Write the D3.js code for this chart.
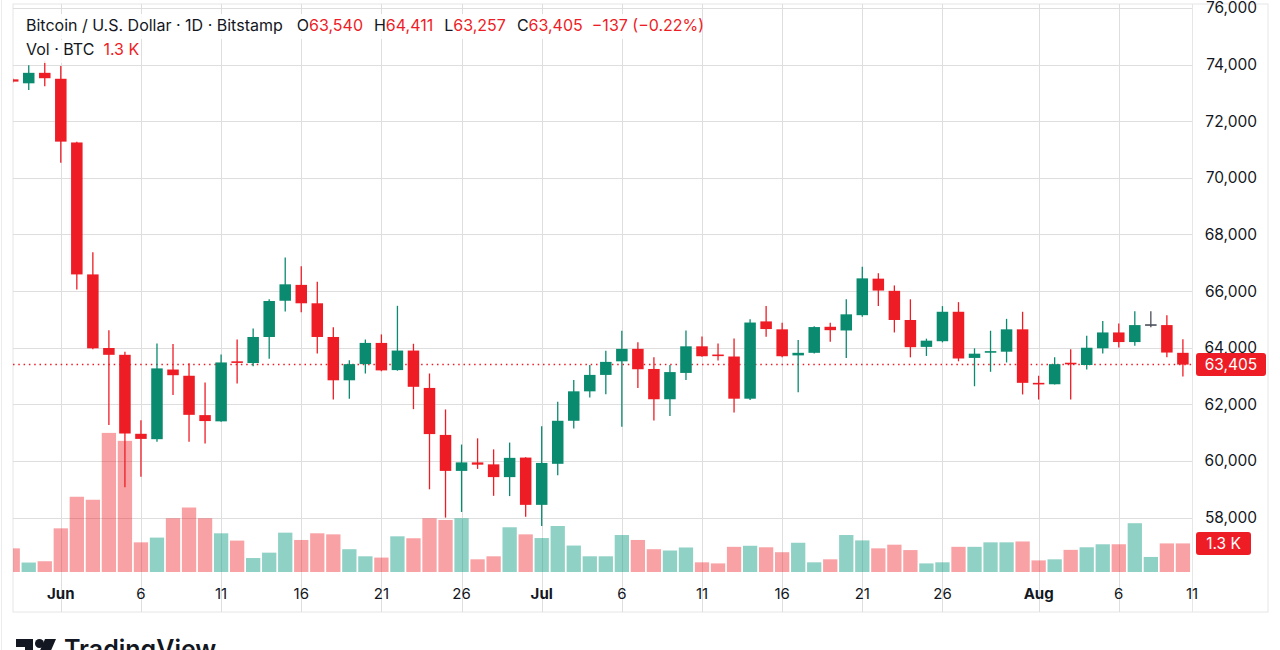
<!DOCTYPE html>
<html>
<head>
<meta charset="utf-8">
<script src="https://cdn.jsdelivr.net/npm/d3@7"></script>
<style>
  html, body { margin: 0; padding: 0; background: #fff; overflow: hidden; }
  svg { display: block; font-family: Inter, "Noto Sans", sans-serif; }
</style>
</head>
<body>
<svg id="chart" width="1280" height="650"></svg>
<script>
"use strict";

// daily candles, May 29 .. Aug 10
var days = [
  "2024-05-29","2024-05-30","2024-05-31",
  "2024-06-01","2024-06-02","2024-06-03","2024-06-04","2024-06-05","2024-06-06","2024-06-07","2024-06-08","2024-06-09","2024-06-10",
  "2024-06-11","2024-06-12","2024-06-13","2024-06-14","2024-06-15","2024-06-16","2024-06-17","2024-06-18","2024-06-19","2024-06-20",
  "2024-06-21","2024-06-22","2024-06-23","2024-06-24","2024-06-25","2024-06-26","2024-06-27","2024-06-28","2024-06-29","2024-06-30",
  "2024-07-01","2024-07-02","2024-07-03","2024-07-04","2024-07-05","2024-07-06","2024-07-07","2024-07-08","2024-07-09","2024-07-10",
  "2024-07-11","2024-07-12","2024-07-13","2024-07-14","2024-07-15","2024-07-16","2024-07-17","2024-07-18","2024-07-19","2024-07-20",
  "2024-07-21","2024-07-22","2024-07-23","2024-07-24","2024-07-25","2024-07-26","2024-07-27","2024-07-28","2024-07-29","2024-07-30","2024-07-31",
  "2024-08-01","2024-08-02","2024-08-03","2024-08-04","2024-08-05","2024-08-06","2024-08-07","2024-08-08","2024-08-09","2024-08-10"
];
var opens = [
  73480,73340,73710,
  73500,71250,66590,63990,63750,60960,60770,63230,63010,61620,
  61400,63520,63460,64380,65660,66220,65570,64380,62850,63420,
  64170,63210,63900,62580,60920,59650,59950,59880,59430,60120,
  58450,59900,61420,62460,63040,63520,63960,63250,62180,63110,
  64050,63760,63690,62200,64930,64650,63730,63820,64740,64610,
  65150,66440,66010,64980,64030,64230,65270,63640,63830,63860,64650,
  62760,62710,63470,63390,63980,64540,64200,64830,64800,63820
];
var highs = [
  73510,73980,74140,
  73950,71280,67370,64620,63860,61440,64150,64130,63450,62770,
  63760,64290,64680,65710,67190,66880,66330,64720,63560,64290,
  64470,65480,64140,63090,61820,60580,60800,60410,60650,60130,
  61230,62090,62860,63390,63890,64600,64190,63660,63390,64610,
  64400,64150,64330,65010,65470,64880,64270,64760,64880,65710,
  66860,66630,66200,65710,64320,65470,65610,63980,64600,65020,65270,
  63010,63660,63950,64420,64940,64860,65290,65290,65150,64300
];
var lows = [
  73360,73100,73240,
  70530,66060,63950,61270,59070,59440,60680,62330,60680,60620,
  61390,62740,63350,63610,65280,65250,63800,62170,62200,63090,
  63170,63190,61830,59000,58000,58200,59720,58770,58760,58030,
  57700,59500,61150,62240,62360,61210,62580,61430,61590,62860,
  63680,63550,61710,62150,64390,63660,62430,63800,64210,63640,
  65090,65470,64540,63660,63710,64190,63520,62640,63150,63480,62350,
  62170,62700,62170,63230,63800,64010,64070,64720,63660,62980
];
var closes = [
  73400,73710,73520,
  71280,66590,63980,63750,60970,60780,63270,63030,61630,61410,
  63480,63490,64380,65650,66240,65570,64380,62850,63420,64170,
  63200,63900,62620,60950,59650,59950,59870,59430,60110,58450,
  59930,61420,62460,63040,63500,63960,63240,62180,63140,64050,
  63700,63730,62200,64890,64660,63700,63820,64730,64620,65180,
  66450,66020,64980,64020,64250,65270,63620,63790,63880,64650,62760,
  62710,63420,63420,64000,64540,64200,64800,64830,63830,63405
];
// volume in thousands of BTC
var volumes = [
  1.10,0.44,0.50,
  2.03,3.50,3.36,6.47,6.10,1.38,1.60,2.50,3.00,2.50,
  1.80,1.46,0.65,0.90,1.83,1.49,1.80,1.75,1.06,0.73,
  0.67,1.66,1.57,2.50,2.42,2.50,0.59,0.73,2.08,1.75,
  1.58,2.14,1.23,0.73,0.73,1.72,1.49,1.06,1.00,1.14,
  0.45,0.40,1.17,1.22,1.15,0.92,1.36,0.45,0.59,1.72,
  1.47,1.10,1.27,1.02,0.40,0.45,1.17,1.17,1.38,1.38,1.42,
  0.54,0.59,1.03,1.15,1.29,1.29,2.27,0.70,1.33,1.33
];

var priceTicks = [58000,60000,62000,64000,66000,68000,70000,72000,74000,76000];
var dateTicks = ["2024-06-01","2024-06-06","2024-06-11","2024-06-16","2024-06-21","2024-06-26",
                 "2024-07-01","2024-07-06","2024-07-11","2024-07-16","2024-07-21","2024-07-26",
                 "2024-08-01","2024-08-06","2024-08-11"];
var dateLabels = ["Jun","6","11","16","21","26","Jul","6","11","16","21","26","Aug","6","11"];
var monthLabels = ["Jun","Jul","Aug"];

var lastPrice = 63405;
var lastVolume = 1.3;
var legendRow1 = [
  ["Bitcoin / U.S. Dollar · 1D · Bitstamp", "ink", 0],
  ["O", "ink", 14], ["63,540", "red", 0],
  ["H", "ink", 11], ["64,411", "red", 0],
  ["L", "ink", 11], ["63,257", "red", 0],
  ["C", "ink", 11], ["63,405", "red", 0],
  ["\u2212137 (\u22120.22%)", "red", 9]
];
var legendRow2 = [["Vol · BTC", "ink", 0], ["1.3 K", "red", 9]];

var RED = "#ee1c25", GREEN = "#0a8a6f", VOLGREEN = "#089981", INK = "#131722", GRID = "#dedede";
var colorOf = { ink: INK, red: RED };

var parse = d3.utcParse("%Y-%m-%d");
var data = days.map(function(d, i) {
  return { date: parse(d), o: opens[i], h: highs[i], l: lows[i], c: closes[i], v: volumes[i] };
});

var svg = d3.select("#chart");
var plot = { left: 13, right: 1192, top: 4, bottom: 612, axisRight: 1268 };
var dayW = 16.03;

var x = d3.scaleUtc()
  .domain([parse("2024-06-01"), parse("2024-08-10")])
  .range([60.8, 60.8 + 70 * dayW]);
var y = d3.scaleLinear().domain([58000, 76000]).range([517.6, 8]);
var yv = d3.scaleLinear().domain([0, 10]).range([572, 357]);

svg.append("defs").append("clipPath").attr("id", "plotclip")
  .append("rect")
  .attr("x", plot.left).attr("y", plot.top)
  .attr("width", plot.right - plot.left).attr("height", plot.bottom - plot.top);

// outer page edge and chart frame
svg.append("line")
  .attr("x1", 1.5).attr("x2", 1.5).attr("y1", 0).attr("y2", 650)
  .attr("stroke", "#ececec");
svg.append("rect")
  .attr("x", plot.left).attr("y", plot.top)
  .attr("width", plot.axisRight - plot.left).attr("height", plot.bottom - plot.top)
  .attr("fill", "none").attr("stroke", "#e6e6e6");

var grid = svg.append("g").attr("clip-path", "url(#plotclip)");
grid.selectAll("line.h").data(priceTicks).enter().append("line")
  .attr("class", "h")
  .attr("x1", plot.left).attr("x2", plot.right)
  .attr("y1", function(d) { return Math.round(y(d)) + 0.5; })
  .attr("y2", function(d) { return Math.round(y(d)) + 0.5; })
  .attr("stroke", GRID);
grid.selectAll("line.v").data(dateTicks).enter().append("line")
  .attr("class", "v")
  .attr("x1", function(d) { return Math.round(x(parse(d))) + 0.5; })
  .attr("x2", function(d) { return Math.round(x(parse(d))) + 0.5; })
  .attr("y1", plot.top).attr("y2", plot.bottom)
  .attr("stroke", GRID);
svg.append("line")
  .attr("x1", plot.right + 0.5).attr("x2", plot.right + 0.5)
  .attr("y1", plot.top).attr("y2", plot.bottom)
  .attr("stroke", "#e6e6e6");

var marks = svg.append("g").attr("clip-path", "url(#plotclip)");

// volume
var volW = 14.3;
marks.selectAll("rect.vol").data(data).enter().append("rect")
  .attr("class", "vol")
  .attr("x", function(d) { return x(d.date) - volW / 2; })
  .attr("y", function(d) { return yv(d.v); })
  .attr("width", volW)
  .attr("height", function(d) { return yv(0) - yv(d.v); })
  .attr("fill", function(d) { return d.c >= d.o ? VOLGREEN : RED; })
  .attr("fill-opacity", function(d) { return d.c >= d.o ? 0.45 : 0.41; });

// last price line
marks.append("line")
  .attr("x1", plot.left).attr("x2", plot.right)
  .attr("y1", y(lastPrice)).attr("y2", y(lastPrice))
  .attr("stroke", RED).attr("stroke-width", 1.5)
  .attr("stroke-dasharray", "1.5,3.8");

function candleColor(d) {
  if (d.c > d.o) return GREEN;
  if (d.c < d.o) return RED;
  return "#4a4e59";
}

var bodyW = 11.5;
var candle = marks.selectAll("g.candle").data(data).enter().append("g").attr("class", "candle");
candle.append("line")
  .attr("x1", function(d) { return x(d.date); })
  .attr("x2", function(d) { return x(d.date); })
  .attr("y1", function(d) { return y(d.h); })
  .attr("y2", function(d) { return y(d.l); })
  .attr("stroke", candleColor).attr("stroke-width", 1.3);
candle.append("rect")
  .attr("x", function(d) { return x(d.date) - bodyW / 2; })
  .attr("y", function(d) { return y(Math.max(d.o, d.c)); })
  .attr("width", bodyW)
  .attr("height", function(d) { return Math.max(1.6, Math.abs(y(d.o) - y(d.c))); })
  .attr("fill", candleColor);

// price axis
var yAxis = d3.axisLeft(y).tickValues(priceTicks).tickFormat(d3.format(",")).tickSize(0).tickPadding(0);
var ya = svg.append("g").attr("transform", "translate(1257,0)").call(yAxis);
ya.select(".domain").remove();
ya.selectAll("text").attr("fill", INK).style("font-size", "15.5px").style("font-family", "Inter, sans-serif");

// time axis
var xAxis = d3.axisBottom(x)
  .tickValues(dateTicks.map(parse))
  .tickFormat(function(d, i) { return dateLabels[i]; })
  .tickSize(0).tickPadding(0);
var xa = svg.append("g").attr("transform", "translate(0,588)").call(xAxis);
xa.select(".domain").remove();
xa.selectAll(".tick").attr("transform", function(d) {
  return "translate(" + Math.min(x(d), plot.right) + ",0)";
});
xa.selectAll("text")
  .attr("fill", INK)
  .style("font-size", "15px")
  .style("font-family", "Inter, sans-serif")
  .style("font-weight", function(d, i) { return monthLabels.indexOf(dateLabels[i]) >= 0 ? 700 : 400; });

// last value tags
function tag(label, yPos, w) {
  var g = svg.append("g");
  g.append("rect")
    .attr("x", 1196).attr("y", yPos - 11.5)
    .attr("width", w).attr("height", 23).attr("rx", 3)
    .attr("fill", RED);
  g.append("text")
    .attr("x", 1196 + w / 2).attr("y", yPos)
    .attr("dy", "0.36em")
    .attr("text-anchor", "middle")
    .attr("fill", "#fff")
    .style("font-size", "15.5px")
    .text(label);
}
tag(d3.format(",")(lastPrice), y(lastPrice), 70);
tag(lastVolume.toFixed(1) + " K", yv(volumes[volumes.length - 1]), 55);

// legend
function legendRow(items, baseline, top, h) {
  var bg = svg.append("rect").attr("fill", "#fff").attr("fill-opacity", 0.85);
  var t = svg.append("text").attr("x", 26).attr("y", baseline).style("font-size", "16px");
  items.forEach(function(it) {
    t.append("tspan").attr("dx", it[2]).attr("fill", colorOf[it[1]]).text(it[0]);
  });
  var w = t.node().getComputedTextLength();
  bg.attr("x", 22).attr("y", top).attr("width", w + 8).attr("height", h);
}
legendRow(legendRow1, 31, 14, 25);
legendRow(legendRow2, 55, 40, 23);

// TradingView mark at the bottom
var logo = svg.append("g").attr("fill", "#131722");
logo.append("path").attr("d", "M16,639 H33 V662 H25 V647 H16 Z");
logo.append("circle").attr("cx", 39.5).attr("cy", 643.5).attr("r", 4.5);
logo.append("path").attr("d", "M45,639 H56 L46,662 H35 Z");
svg.append("text")
  .attr("x", 64).attr("y", 658)
  .attr("fill", "#131722")
  .style("font-size", "25px").style("font-weight", 600)
  .text("TradingView");
</script>
</body>
</html>
